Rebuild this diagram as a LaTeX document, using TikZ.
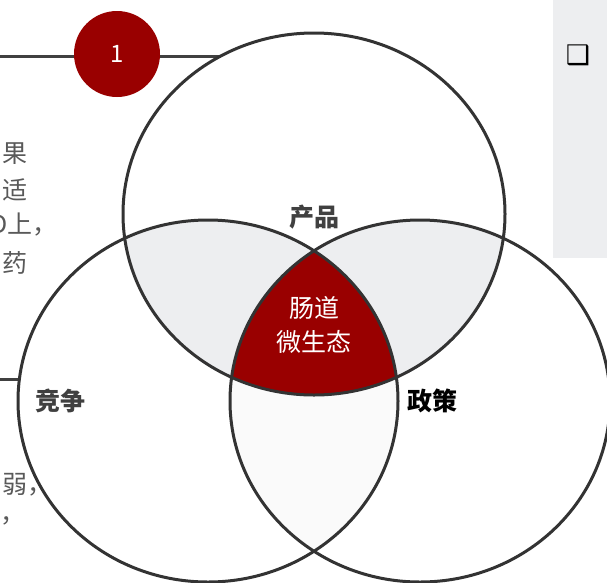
\documentclass[tikz,border=0pt]{standalone}
\usepackage{fontspec}
\setmainfont{Noto Sans CJK SC}
\newfontfamily\dejavu{DejaVu Sans}
\definecolor{darkred}{HTML}{990000}
\definecolor{ringgray}{HTML}{333333}
\definecolor{linegray}{HTML}{404040}
\definecolor{boxgray}{HTML}{EDEEF0}
\definecolor{lapgray}{HTML}{EDEEF0}
\definecolor{lapwhite}{HTML}{FAFAFA}
\definecolor{fraggray}{HTML}{595959}
\tikzset{
  ring/.style={draw=ringgray, line width=3pt},
  conn/.style={draw=linegray, line width=3pt},
  lbl/.style={font=\fontsize{25}{25}\selectfont\bfseries, text=linegray},
  frag/.style={font=\fontsize{25}{25}\selectfont, text=fraggray},
}
\begin{document}
\begin{tikzpicture}[x=1pt,y=-1pt, every node/.style={inner sep=0pt, outer sep=0pt}]
\useasboundingbox (0,0) rectangle (607,582);
\clip (0,0) rectangle (607,582);
% right grey panel
\fill[boxgray] (553,0) rectangle (607,258);
\node[font=\dejavu\fontsize{27}{27}\selectfont] (chk) at (578,55) {❑};
% fills
\begin{scope}
  \clip (208,401) ellipse [x radius=190, y radius=181];
  \fill[lapwhite] (420,401) ellipse [x radius=190, y radius=181];
\end{scope}
\begin{scope}
  \clip (314,214) ellipse [x radius=191, y radius=181];
  \fill[lapgray] (208,401) ellipse [x radius=190, y radius=181];
  \fill[lapgray] (420,401) ellipse [x radius=190, y radius=181];
\end{scope}
\begin{scope}
  \clip (314,214) ellipse [x radius=191, y radius=181];
  \clip (208,401) ellipse [x radius=190, y radius=181];
  \fill[darkred] (420,401) ellipse [x radius=190, y radius=181];
\end{scope}
% connectors
\coordinate (l1s) at (0,56);
\coordinate (l1e) at (221,56);
\coordinate (l2s) at (0,379);
\coordinate (l2e) at (19,379);
\draw[conn] (l1s) -- (l1e);
\draw[conn] (l2s) -- (l2e);
% outlines
\draw[ring] (314,214) ellipse [x radius=191, y radius=181];
\draw[ring] (208,401) ellipse [x radius=190, y radius=181];
\draw[ring] (420,401) ellipse [x radius=190, y radius=181];
% number badge
\node[circle, fill=darkred, minimum size=86pt, text=white, font=\fontsize{24}{24}\selectfont] (n1) at (117,54) {1};
% labels
\node[lbl] (prod) at (314,217) {产品};
\node[lbl] (comp) at (60,401) {竞争};
\node[lbl, text=black] (pol) at (432,401) {政策};
\node[align=center, text=white, font=\fontsize{25}{34}\selectfont] (core) at (314,325) {肠道\\微生态};
% clipped text fragments on the left
\node[frag, anchor=west] (f1) at (2,154) {果};
\node[frag, anchor=west] (f2) at (2,190) {适};
\node[frag, anchor=east] (f3) at (58,225) {D上，};
\node[frag, anchor=west] (f4) at (2,263) {药};
\node[frag, anchor=west] (f5) at (2,485) {弱，};
\node[frag, anchor=west] (f6) at (1,521) {，};
\end{tikzpicture}
\end{document}
